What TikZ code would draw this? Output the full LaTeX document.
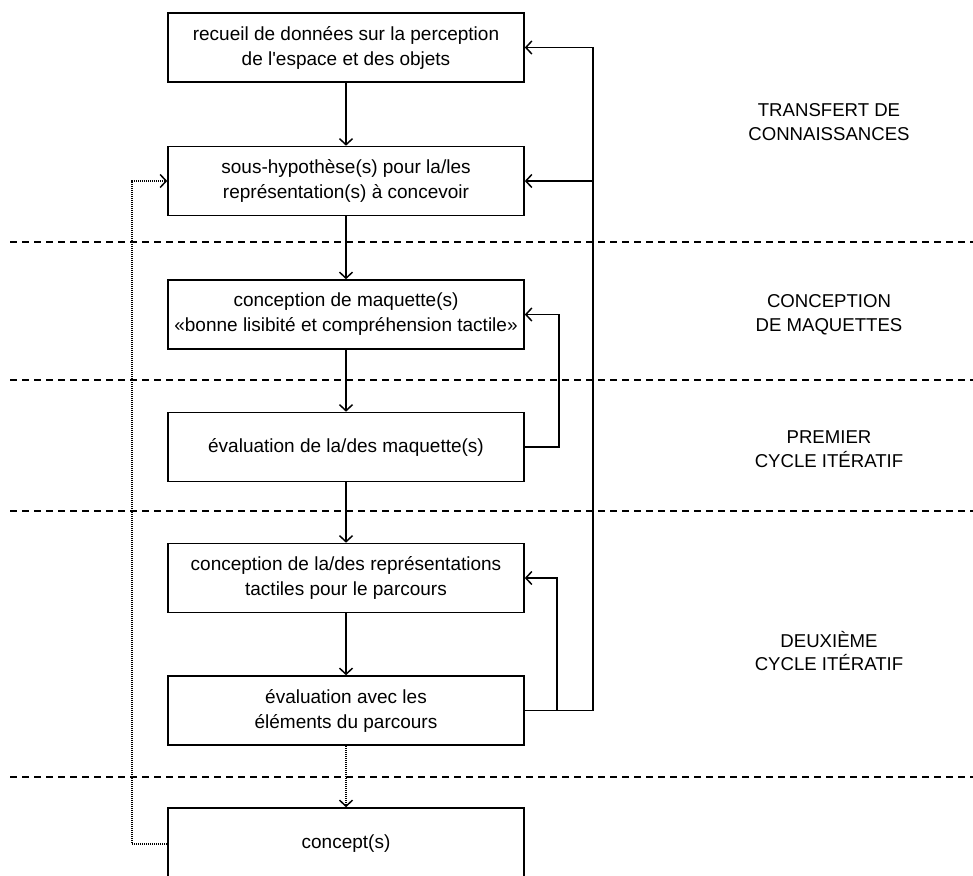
\documentclass[tikz,border=0pt]{standalone}
\usepackage{fontspec}
\setmainfont{Liberation Sans}
\usetikzlibrary{arrows.meta}
\begin{document}
\begin{tikzpicture}[x=1pt,y=-1pt,
  box/.style={draw, line width=1.6pt, minimum width=356pt, minimum height=69pt, inner sep=0pt, align=center, font=\fontsize{19}{25}\selectfont},
  lab/.style={align=center, inner sep=0pt, font=\fontsize{18.6}{23.5}\selectfont},
  conn/.style={line width=1.5pt, -{Straight Barb[length=6pt,width=13pt,line width=1.5pt]}},
  plain/.style={line width=1.5pt},
  dots/.style={line width=1.5pt, dash pattern=on 1pt off 1pt},
  sep/.style={line width=1.5pt, dash pattern=on 7pt off 5pt}]
\useasboundingbox (0,0) rectangle (973,875);
\fill[white] (0,0) rectangle (973,875);

% separators
\draw[sep] (10,242) -- (973,242);
\draw[sep] (10,380) -- (973,380);
\draw[sep] (10,511) -- (973,511);
\draw[sep] (10,777) -- (973,777);

% boxes
\node[box] (b1) at (346,47.5) {recueil de données sur la perception\\de l\textquotesingle espace et des objets};
\node[box] (b2) at (346,181) {sous-hypothèse(s) pour la/les\\représentation(s) à concevoir};
\node[box] (b3) at (346,314.5) {conception de maquette(s)\\«bonne lisibité et compréhension tactile»};
\node[box] (b4) at (346,447) {évaluation de la/des maquette(s)};
\node[box] (b5) at (346,578) {conception de la/des représentations\\tactiles pour le parcours};
\node[box] (b6) at (346,710.5) {évaluation avec les\\éléments du parcours};
\node[box, minimum height=72pt] (b7) at (346,844) {concept(s)};

% labels
\node[lab] (l1) at (829,122) {TRANSFERT DE\\CONNAISSANCES};
\node[lab] (l2) at (829,315) {CONCEPTION\\DE MAQUETTES};
\node[lab] (l3) at (829,449) {PREMIER\\CYCLE ITÉRATIF};
\node[lab] (l4) at (829,651) {DEUXIÈME\\CYCLE ITÉRATIF};

% main flow
\draw[conn] (b1) -- (b2);
\draw[conn] (b2) -- (b3);
\draw[conn] (b3) -- (b4);
\draw[conn] (b4) -- (b5);
\draw[conn] (b5) -- (b6);
\draw[dots, -{Straight Barb[length=6pt,width=13pt,line width=1.5pt]}] (b6) -- (b7);

% feedback loops
\coordinate (r1) at (593,0);
\coordinate (r2) at (559,0);
\coordinate (r3) at (557,0);
\coordinate (lft) at (132,0);
\draw[plain] (b6.east) -- (b6.east -| r1);
\draw[conn] (b6.east -| r1) -- (b1.east -| r1) -- (b1.east);
\draw[conn] (b2.east -| r1) -- (b2.east);
\draw[conn] (b4.east) -- (b4.east -| r2) -- (b3.east -| r2) -- (b3.east);
\draw[conn] (b6.east -| r3) -- (b5.east -| r3) -- (b5.east);
\draw[dots, -{Straight Barb[length=6pt,width=13pt,line width=1.5pt]}] (b7.west) -- (b7.west -| lft) -- (b2.west -| lft) -- (b2.west);
\end{tikzpicture}
\end{document}
